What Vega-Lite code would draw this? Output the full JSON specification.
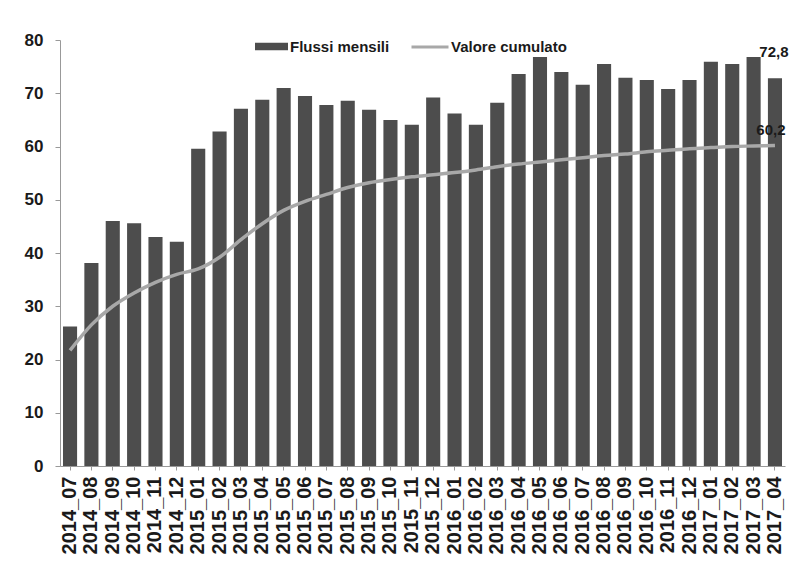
{
  "$schema": "https://vega.github.io/schema/vega-lite/v6.json",
  "width": 725,
  "height": 426,
  "autosize": {"type": "none"},
  "padding": {"left": 60, "top": 40, "right": 15, "bottom": 102},
  "background": "white",
  "config": {
    "view": {"stroke": null},
    "font": "Liberation Sans",
    "locale": {"number": {"decimal": ",", "thousands": ".", "grouping": [3], "currency": ["€", ""]}}
  },
  "data": {
    "values": [
      {"mese": "2014_07", "flussi": 26.2, "cumulato": 21.7},
      {"mese": "2014_08", "flussi": 38.1, "cumulato": 26.5},
      {"mese": "2014_09", "flussi": 46.0, "cumulato": 30.0},
      {"mese": "2014_10", "flussi": 45.6, "cumulato": 32.5},
      {"mese": "2014_11", "flussi": 43.0, "cumulato": 34.5},
      {"mese": "2014_12", "flussi": 42.1, "cumulato": 36.0},
      {"mese": "2015_01", "flussi": 59.6, "cumulato": 37.0},
      {"mese": "2015_02", "flussi": 62.8, "cumulato": 39.2},
      {"mese": "2015_03", "flussi": 67.1, "cumulato": 42.5},
      {"mese": "2015_04", "flussi": 68.8, "cumulato": 45.5},
      {"mese": "2015_05", "flussi": 71.0, "cumulato": 48.0},
      {"mese": "2015_06", "flussi": 69.5, "cumulato": 49.7},
      {"mese": "2015_07", "flussi": 67.8, "cumulato": 51.0},
      {"mese": "2015_08", "flussi": 68.6, "cumulato": 52.3},
      {"mese": "2015_09", "flussi": 66.9, "cumulato": 53.2},
      {"mese": "2015_10", "flussi": 65.0, "cumulato": 53.8},
      {"mese": "2015_11", "flussi": 64.1, "cumulato": 54.3},
      {"mese": "2015_12", "flussi": 69.2, "cumulato": 54.7},
      {"mese": "2016_01", "flussi": 66.2, "cumulato": 55.1},
      {"mese": "2016_02", "flussi": 64.1, "cumulato": 55.6},
      {"mese": "2016_03", "flussi": 68.2, "cumulato": 56.2},
      {"mese": "2016_04", "flussi": 73.6, "cumulato": 56.7},
      {"mese": "2016_05", "flussi": 76.8, "cumulato": 57.1},
      {"mese": "2016_06", "flussi": 74.0, "cumulato": 57.5},
      {"mese": "2016_07", "flussi": 71.6, "cumulato": 57.9},
      {"mese": "2016_08", "flussi": 75.5, "cumulato": 58.3},
      {"mese": "2016_09", "flussi": 72.9, "cumulato": 58.6},
      {"mese": "2016_10", "flussi": 72.5, "cumulato": 59.0},
      {"mese": "2016_11", "flussi": 70.8, "cumulato": 59.3},
      {"mese": "2016_12", "flussi": 72.5, "cumulato": 59.6},
      {"mese": "2017_01", "flussi": 75.9, "cumulato": 59.8},
      {"mese": "2017_02", "flussi": 75.5, "cumulato": 60.0},
      {"mese": "2017_03", "flussi": 76.8, "cumulato": 60.1},
      {"mese": "2017_04", "flussi": 72.8, "cumulato": 60.2}
    ]
  },
  "encoding": {
    "x": {
      "field": "mese",
      "type": "ordinal",
      "sort": null,
      "scale": {"paddingInner": 0.34, "paddingOuter": 0.14},
      "axis": {
        "title": null,
        "labelAngle": -90,
        "labelFontSize": 20,
        "labelFontWeight": "bold",
        "labelColor": "#1a1a1a",
        "labelPadding": 6,
        "tickSize": 4,
        "tickColor": "#999999",
        "domainColor": "#999999"
      }
    }
  },
  "layer": [
    {
      "mark": {"type": "bar"},
      "encoding": {
        "y": {
          "field": "flussi",
          "type": "quantitative",
          "scale": {"domain": [0, 80]},
          "axis": {
            "title": null,
            "values": [0, 10, 20, 30, 40, 50, 60, 70, 80],
            "grid": false,
            "labelFontSize": 17,
            "labelFontWeight": "bold",
            "labelColor": "#1a1a1a",
            "labelPadding": 12,
            "tickSize": 5,
            "tickColor": "#999999",
            "domainColor": "#999999"
          }
        },
        "fill": {
          "datum": "Flussi mensili",
          "type": "nominal",
          "scale": {"range": ["#4d4d4d"]},
          "legend": {
            "title": null,
            "orient": "none",
            "legendX": 195,
            "legendY": -10,
            "padding": 0,
            "symbolType": "M-1,-0.22L1,-0.22L1,0.22L-1,0.22Z",
            "symbolSize": 1089,
            "symbolStrokeWidth": 0,
            "labelFontSize": 15,
            "labelFontWeight": "bold",
            "labelColor": "#1a1a1a",
            "labelOffset": 2
          }
        }
      }
    },
    {
      "mark": {"type": "line", "strokeWidth": 3.5, "interpolate": "monotone"},
      "encoding": {
        "y": {"field": "cumulato", "type": "quantitative"},
        "stroke": {
          "datum": "Valore cumulato",
          "type": "nominal",
          "scale": {"range": ["#a8a8a8"]},
          "legend": {
            "title": null,
            "orient": "none",
            "legendX": 350,
            "legendY": -13,
            "padding": 0,
            "symbolType": "stroke",
            "symbolSize": 1369,
            "symbolStrokeWidth": 3,
            "labelFontSize": 15,
            "labelFontWeight": "bold",
            "labelColor": "#1a1a1a",
            "labelOffset": 1
          }
        }
      }
    },
    {
      "transform": [{"filter": "datum.mese === '2017_04'"}],
      "mark": {"type": "text", "fontSize": 15, "fontWeight": "bold", "color": "#1a1a1a", "dy": -26, "dx": -1, "baseline": "middle"},
      "encoding": {
        "y": {"field": "flussi", "type": "quantitative"},
        "text": {"field": "flussi", "type": "quantitative", "format": ".1f"}
      }
    },
    {
      "transform": [{"filter": "datum.mese === '2017_04'"}],
      "mark": {"type": "text", "fontSize": 15, "fontWeight": "bold", "color": "#1a1a1a", "dy": -15, "dx": -4, "baseline": "middle"},
      "encoding": {
        "y": {"field": "cumulato", "type": "quantitative"},
        "text": {"field": "cumulato", "type": "quantitative", "format": ".1f"}
      }
    }
  ]
}
